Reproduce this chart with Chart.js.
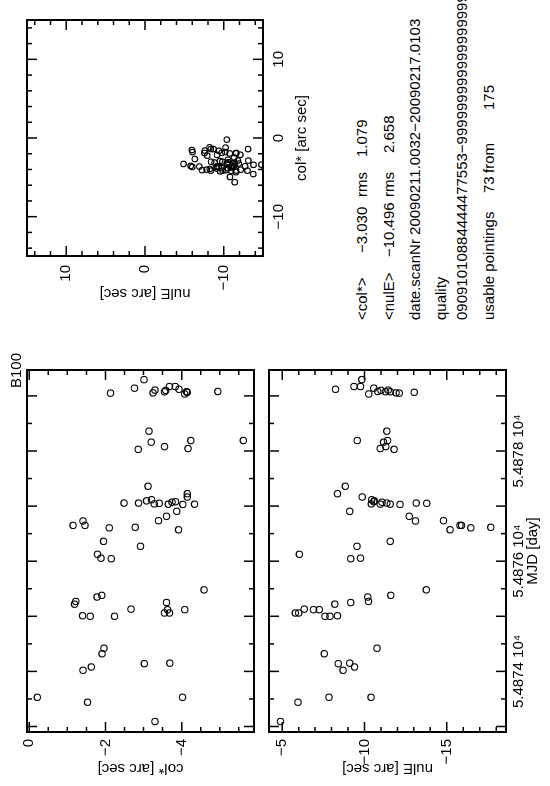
<!DOCTYPE html>
<html>
<head>
<meta charset="utf-8">
<script src="https://cdn.jsdelivr.net/npm/chart.js@4.4.1/dist/chart.umd.min.js"></script>
<style>
  html, body { margin: 0; padding: 0; background: #fff; }
  body { width: 550px; height: 786px; overflow: hidden; position: relative; }
  /* the plot is a landscape page turned a quarter to the left */
  #page {
    position: absolute; left: 0; top: 0; width: 786px; height: 550px;
    transform-origin: 0 0; transform: translateY(786px) rotate(-90deg);
    overflow: hidden; background: #fff;
    font-family: "Liberation Sans", "DejaVu Sans", sans-serif; font-size: 15px; color: #000;
  }
  .box { position: absolute; }
  .txt { position: absolute; white-space: pre; line-height: 18px; }
</style>
</head>
<body>
<div id="page">
  <div class="box" style="left:0;top:0;width:440px;height:270px"><canvas id="colChart" width="440" height="270"></canvas></div>
  <div class="box" style="left:0;top:0;width:440px;height:550px"><canvas id="nulChart" width="440" height="550"></canvas></div>
  <div class="box" style="left:440px;top:0;width:346px;height:320px"><canvas id="xyChart" width="346" height="320"></canvas></div>
  <div class="txt" style="right:353px;top:7px">B100</div>
  <div id="info"></div>
</div>
<script>
// pointings (MJD, col*, nulE)
const mjd = [
  54873.09, 54873.44, 54873.53, 54873.53,
  54874.02, 54874.08, 54874.14, 54874.15, 54874.32, 54874.42,
  54875.00, 54875.00, 54875.01, 54875.06, 54875.06, 54875.12, 54875.12, 54875.13,
  54875.22, 54875.25, 54875.27, 54875.35, 54875.38, 54875.48,
  54876.045, 54876.055, 54876.125, 54876.27, 54876.36, 54876.57, 54876.605, 54876.615,
  54876.65, 54876.65, 54876.73, 54876.735, 54876.815, 54876.905,
  54877.03, 54877.035, 54877.035, 54877.04, 54877.05, 54877.055, 54877.055, 54877.07,
  54877.08, 54877.095, 54877.115, 54877.165, 54877.225, 54877.36,
  54878.03, 54878.045, 54878.08, 54878.16, 54878.19, 54878.19, 54878.36,
  54879.035, 54879.05, 54879.055, 54879.065, 54879.075, 54879.075, 54879.08,
  54879.10, 54879.105, 54879.12, 54879.14, 54879.17, 54879.17, 54879.295
];
const colStar = [
  -3.30, -1.53, -0.21, -4.02,
  -1.41, -1.63, -3.02, -3.69, -1.91, -1.96,
  -2.24, -1.60, -1.40, -3.68, -3.55, -4.08, -3.63, -2.67,
  -1.19, -3.60, -1.22, -1.78, -1.90, -4.59,
  -2.15, -1.88, -1.79, -2.92, -1.95, -3.92, -2.10, -2.78,
  -1.46, -1.15, -1.41, -3.39, -3.60, -3.87,
  -4.03, -4.34, -3.65, -3.28, -3.41, -2.87, -2.49, -3.75,
  -3.84, -3.08, -3.21, -4.15, -4.15, -3.12,
  -2.86, -4.17, -3.55, -3.20, -5.62, -4.24, -3.14,
  -4.08, -2.13, -3.25, -4.15, -4.13, -3.55, -4.95,
  -3.58, -3.30, -3.93, -2.76, -3.83, -3.68, -3.01
];
const nulE = [
  -4.90, -5.96, -10.40, -7.84,
  -8.70, -9.40, -8.40, -9.10, -7.56, -10.76,
  -7.90, -7.60, -8.36, -6.00, -5.80, -7.26, -6.90, -6.34,
  -8.20, -9.16, -10.24, -10.20, -11.60, -13.76,
  -9.16, -9.76, -6.04, -9.54, -11.56, -15.20, -16.46, -17.68,
  -15.90, -15.80, -13.10, -14.80, -12.72, -9.10,
  -12.16, -11.56, -10.96, -10.42, -13.78, -13.14, -11.36, -11.06,
  -10.56, -10.60, -10.44, -9.86, -8.36, -8.84,
  -11.80, -10.96, -11.30, -11.16, -11.40, -9.56, -11.36,
  -10.26, -12.12, -11.92, -13.02, -11.56, -11.28, -10.80,
  -11.00, -11.44, -8.24, -10.56, -9.76, -9.36, -9.84
];

// axis ranges and tick labels
const mjdRange = [54872.90, 54879.47];
const mjdLabels = [54874, 54876, 54878];
const colRange = [-5.90, 0.06];
const colLabels = [0, -2, -4];
const nulRange = [-18.6, -4.2];
const nulLabels = [-5, -10, -15];
const xyRange = [-15, 15];
const xyLabels = [-10, 0, 10];

const infoLines = [
  { top: 353, parts: [['<col*>', 466], ['\u22123.030', 533], ['rms', 589], ['1.079', 629]] },
  { top: 380, parts: [['<nulE>', 466], ['\u221210.496', 529], ['rms', 589], ['2.658', 633]] },
  { top: 406, parts: [['date.scanNr 20090211.0032\u221220090217.0103', 466]] },
  { top: 432, parts: [['quality', 466]] },
  { top: 453, parts: [['09091010884444477553\u2212999999999999999999999999', 466]] },
  { top: 480, parts: [['usable pointings', 466], ['73', 593], ['from', 613], ['175', 676]] }
];

const info = document.getElementById('info');
infoLines.forEach(line => {
  line.parts.forEach(([t, left]) => {
    const d = document.createElement('div');
    d.className = 'txt';
    d.style.left = left + 'px';
    d.style.top = line.top + 'px';
    d.textContent = t;
    info.appendChild(d);
  });
});

function steps(lo, hi, step) {
  const out = [];
  for (let v = Math.ceil(lo / step) * step; v <= hi + 1e-9; v += step) out.push(+v.toFixed(6));
  return out;
}

// box with inward ticks on all four sides, like the old plot package
const pgBox = {
  id: 'pgBox',
  afterDatasetsDraw(chart, args, opts) {
    const { ctx, chartArea: a, scales } = chart;
    ctx.save();
    ctx.strokeStyle = '#000';
    ctx.lineWidth = 1.5;
    ctx.beginPath();
    const tick = (vals, len, horiz) => {
      vals.forEach(v => {
        if (horiz) {
          const p = scales.x.getPixelForValue(v);
          if (p <= a.left + 1 || p >= a.right - 1) return;
          ctx.moveTo(p, a.bottom); ctx.lineTo(p, a.bottom - len);
          ctx.moveTo(p, a.top); ctx.lineTo(p, a.top + len);
        } else {
          const p = scales.y.getPixelForValue(v);
          if (p <= a.top + 1 || p >= a.bottom - 1) return;
          ctx.moveTo(a.left, p); ctx.lineTo(a.left + len, p);
          ctx.moveTo(a.right, p); ctx.lineTo(a.right - len, p);
        }
      });
    };
    tick(opts.xMinor, 5, true);
    tick(opts.xMajor, 10, true);
    tick(opts.yMinor, 5, false);
    tick(opts.yMajor, 10, false);
    ctx.stroke();
    ctx.lineWidth = 2;
    ctx.strokeRect(a.left, a.top, a.right - a.left, a.bottom - a.top);
    ctx.restore();
  }
};

Chart.defaults.font.family = '"Liberation Sans", "DejaVu Sans", sans-serif';
Chart.defaults.font.size = 15;
Chart.defaults.color = '#000';

const pointStyle = {
  pointRadius: 3.2,
  pointBorderWidth: 1.1,
  pointBorderColor: '#000',
  pointBackgroundColor: 'rgba(0,0,0,0)',
  showLine: false
};

const fixedTicks = vals => scale => { scale.ticks = vals.map(v => ({ value: v })); };

function yAxis(range, labels, title, width, titlePad, tickPad) {
  return {
    type: 'linear', min: range[0], max: range[1],
    afterFit: s => { s.width = width; },
    afterBuildTicks: fixedTicks(labels),
    grid: { display: false, drawTicks: false },
    border: { display: false },
    ticks: { padding: tickPad, callback: v => String(v).replace('-', '\u2212') },
    title: { display: true, text: title, padding: { top: titlePad, bottom: 0 }, font: { size: 15 } }
  };
}

// col* against time
new Chart(document.getElementById('colChart'), {
  type: 'scatter',
  data: { datasets: [{ data: mjd.map((m, i) => ({ x: m, y: colStar[i] })), ...pointStyle, clip: false }] },
  options: {
    responsive: false, animation: false, events: [],
    layout: { padding: { top: 27, right: 24, bottom: 6, left: 0 } },
    plugins: {
      legend: { display: false }, tooltip: { enabled: false },
      pgBox: {
        xMajor: steps(mjdRange[0], mjdRange[1], 1), xMinor: steps(mjdRange[0], mjdRange[1], 0.5),
        yMajor: steps(colRange[0], colRange[1], 2), yMinor: steps(colRange[0], colRange[1], 0.5)
      }
    },
    scales: {
      x: { type: 'linear', min: mjdRange[0], max: mjdRange[1], display: false },
      y: yAxis(colRange, colLabels, 'col* [arc sec]', 54, 9, 7)
    }
  },
  plugins: [pgBox]
});

// nulE against time
new Chart(document.getElementById('nulChart'), {
  type: 'scatter',
  data: { datasets: [{ data: mjd.map((m, i) => ({ x: m, y: nulE[i] })), ...pointStyle, clip: false }] },
  options: {
    responsive: false, animation: false, events: [],
    layout: { padding: { top: 269, right: 24, bottom: 0, left: 0 } },
    plugins: {
      legend: { display: false }, tooltip: { enabled: false },
      pgBox: {
        xMajor: steps(mjdRange[0], mjdRange[1], 1), xMinor: steps(mjdRange[0], mjdRange[1], 0.5),
        yMajor: steps(nulRange[0], nulRange[1], 5), yMinor: steps(nulRange[0], nulRange[1], 1)
      }
    },
    scales: {
      x: {
        type: 'linear', min: mjdRange[0], max: mjdRange[1],
        afterFit: s => { s.height = 44; },
        afterBuildTicks: fixedTicks(mjdLabels),
        grid: { display: false, drawTicks: false },
        border: { display: false },
        ticks: { padding: 4, maxRotation: 0, minRotation: 0, autoSkip: false,
                 callback: v => (v / 1e4).toFixed(4) + ' 10\u2074' },
        title: { display: true, text: 'MJD [day]', padding: { top: 0, bottom: 8 } }
      },
      y: yAxis(nulRange, nulLabels, 'nulE [arc sec]', 54, 9, 7)
    }
  },
  plugins: [pgBox]
});

// nulE against col*
new Chart(document.getElementById('xyChart'), {
  type: 'scatter',
  data: { datasets: [{ data: colStar.map((c, i) => ({ x: c, y: nulE[i] })), ...pointStyle, pointRadius: 2.8, clip: 0 }] },
  options: {
    responsive: false, animation: false, events: [],
    layout: { padding: { top: 27, right: 20, bottom: 0, left: 0 } },
    plugins: {
      legend: { display: false }, tooltip: { enabled: false },
      pgBox: {
        xMajor: steps(xyRange[0], xyRange[1], 10), xMinor: steps(xyRange[0], xyRange[1], 2),
        yMajor: steps(xyRange[0], xyRange[1], 10), yMinor: steps(xyRange[0], xyRange[1], 2)
      }
    },
    scales: {
      x: {
        type: 'linear', min: xyRange[0], max: xyRange[1],
        afterFit: s => { s.height = 57; },
        afterBuildTicks: fixedTicks(xyLabels),
        grid: { display: false, drawTicks: false },
        border: { display: false },
        ticks: { padding: 7, maxRotation: 0, minRotation: 0, callback: v => String(v).replace('-', '\u2212') },
        title: { display: true, text: 'col* [arc sec]', padding: { top: 0, bottom: 9 } }
      },
      y: yAxis(xyRange, xyLabels, 'nulE [arc sec]', 90, 44, 9)
    }
  },
  plugins: [pgBox]
});
</script>
</body>
</html>
